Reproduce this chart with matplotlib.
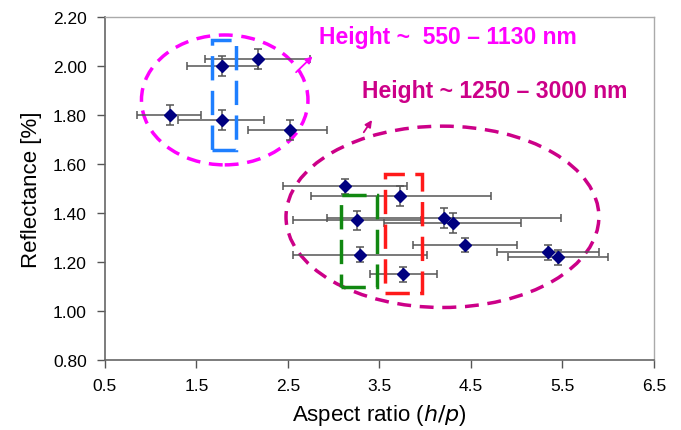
import matplotlib
matplotlib.use("Agg")
import matplotlib.pyplot as plt
from matplotlib.patches import Ellipse, Rectangle

plt.rcParams['font.family'] = ['Liberation Sans', 'DejaVu Sans']

# aspect ratio (h/p), reflectance (%), x error range, y error
ar = [1.21, 1.78, 1.78, 2.17, 2.52,
      3.13, 3.73, 3.26, 4.21, 4.31, 4.44, 5.34, 5.45, 3.29, 3.76]
refl = [1.80, 1.78, 2.00, 2.03, 1.74,
        1.51, 1.47, 1.37, 1.38, 1.36, 1.27, 1.24, 1.22, 1.23, 1.15]
x_lo = [0.85, 1.30, 1.40, 1.59, 2.06,
        2.45, 2.75, 2.56, 2.93, 3.55, 3.87, 4.79, 4.91, 2.56, 3.40]
x_hi = [1.55, 2.24, 2.17, 2.74, 2.93,
        3.80, 4.72, 3.96, 5.49, 5.05, 5.01, 5.90, 6.00, 4.02, 4.13]
y_err = [0.04, 0.04, 0.04, 0.04, 0.04,
         0.03, 0.04, 0.04, 0.04, 0.04, 0.03, 0.03, 0.03, 0.03, 0.03]

xticks = [0.5, 1.5, 2.5, 3.5, 4.5, 5.5, 6.5]
yticks = [0.80, 1.00, 1.20, 1.40, 1.60, 1.80, 2.00, 2.20]

label_small = 'Height ~  550 \u2013 1130 nm'
label_big = 'Height ~ 1250 \u2013 3000 nm'

fig = plt.figure(figsize=(6.81, 4.31), dpi=100)
ax = fig.add_axes([0.154, 0.162, 0.806, 0.796])

xerr = [[a - l for a, l in zip(ar, x_lo)], [h - a for a, h in zip(ar, x_hi)]]
ax.errorbar(ar, refl, xerr=xerr, yerr=y_err, fmt='D', color='#000080',
            markersize=6, ecolor='#555555', elinewidth=1.1, capsize=3,
            capthick=1.1, zorder=3)

# groups
ax.add_patch(Ellipse((1.81, 1.862), 1.82, 0.53, fill=False, ec='#FF00FF',
                     lw=2.5, ls=(0, (4, 2.5)), zorder=2))
ax.add_patch(Ellipse((4.19, 1.385), 3.42, 0.74, fill=False, ec='#CC0088',
                     lw=2.5, ls=(0, (4, 2.5)), zorder=2))
ax.add_patch(Rectangle((1.67, 1.657), 0.26, 0.45, fill=False, ec='#1E7FFF',
                       lw=2.5, ls=(0, (7, 3)), zorder=4))
ax.add_patch(Rectangle((3.08, 1.098), 0.40, 0.375, fill=False, ec='#118811',
                       lw=2.5, ls=(0, (7, 3)), zorder=4))
ax.add_patch(Rectangle((3.56, 1.074), 0.41, 0.485, fill=False, ec='#FF1A1A',
                       lw=2.5, ls=(0, (7, 3)), zorder=4))

ax.annotate('', xy=(2.77, 2.04), xytext=(2.59, 1.975),
            arrowprops=dict(arrowstyle='-|>', color='#FF00FF', lw=1.3,
                            mutation_scale=10, shrinkA=0, shrinkB=0))
ax.text(2.84, 2.12, label_small, fontsize=16.5, fontweight='bold',
        color='#FF00FF', va='center')
ax.annotate('', xy=(3.42, 1.78), xytext=(3.33, 1.73),
            arrowprops=dict(arrowstyle='-|>', color='#CC0088', lw=1.3,
                            mutation_scale=10, shrinkA=0, shrinkB=0))
ax.text(3.31, 1.90, label_big, fontsize=16.5, fontweight='bold',
        color='#CC0088', va='center')

ax.set_xlim(0.5, 6.5)
ax.set_ylim(0.8, 2.2)
ax.set_xticks(xticks)
ax.set_xticklabels(['%.1f' % v for v in xticks])
ax.set_yticks(yticks)
ax.set_yticklabels(['%.2f' % v for v in yticks])
ax.tick_params(labelsize=12.5, length=6, width=1, color='#555555')
ax.tick_params(axis='x', pad=7)
ax.tick_params(axis='y', pad=7)

for s in ['left', 'bottom']:
    ax.spines[s].set_color('#666666')
    ax.spines[s].set_linewidth(1.2)
for s in ['top', 'right']:
    ax.spines[s].set_color('#AAAAAA')
    ax.spines[s].set_linewidth(1.0)

ax.set_xlabel('Aspect ratio ($\\mathit{h/p}$)', fontsize=16, labelpad=6)
ax.set_ylabel('Reflectance [%]', fontsize=16, labelpad=8)

fig.savefig('out.png', dpi=100)
